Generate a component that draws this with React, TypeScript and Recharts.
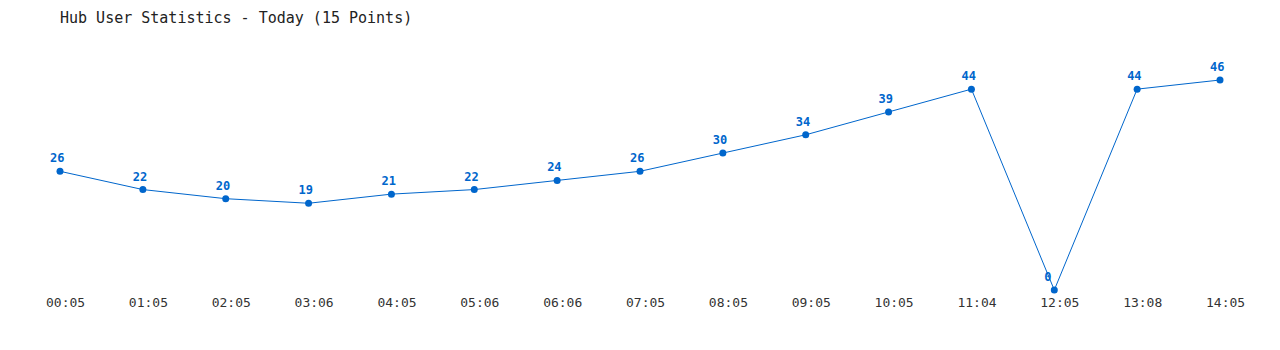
import { LineChart, Line, XAxis, YAxis, LabelList } from 'recharts';

const times = [
  '00:05', '01:05', '02:05', '03:06', '04:05', '05:06', '06:06', '07:05',
  '08:05', '09:05', '10:05', '11:04', '12:05', '13:08', '14:05',
];
const users = [26, 22, 20, 19, 21, 22, 24, 26, 30, 34, 39, 44, 0, 44, 46];

const data = times.map((t, i) => ({ time: t, users: users[i] }));

const mono = '"DejaVu Sans Mono", "Liberation Mono", monospace';
const blue = '#0066cc';

const TimeTick = (props: any) => {
  const { x, y, payload } = props;
  return (
    <text x={x - 14} y={y} dy="0.71em" textAnchor="start" fontFamily={mono} fontSize={13} fill="#333">
      {payload.value}
    </text>
  );
};

const PointLabel = (props: any) => {
  const { x, y, value } = props;
  return (
    <text x={x - 10} y={y - 9} textAnchor="start" fontFamily={mono} fontSize={12} fontWeight="bold" fill={blue}>
      {value}
    </text>
  );
};

export default function App() {
  return (
    <div style={{ position: 'absolute', left: 0, top: 0, width: 1280, height: 350, background: '#fff' }}>
      <div
        style={{
          position: 'absolute',
          left: 60,
          top: 10,
          fontFamily: mono,
          fontSize: 15,
          lineHeight: '16px',
          color: '#222',
          whiteSpace: 'pre',
        }}
      >
        Hub User Statistics - Today (15 Points)
      </div>
      <LineChart width={1280} height={350} data={data} margin={{ top: 80, right: 60, bottom: 30, left: 60 }}>
        <XAxis
          dataKey="time"
          height={30}
          axisLine={false}
          tickLine={false}
          interval={0}
          padding={{ left: 0, right: 0 }}
          tick={<TimeTick />}
        />
        <YAxis hide domain={[0, 46]} />
        <Line
          type="linear"
          dataKey="users"
          stroke={blue}
          strokeWidth={1}
          dot={{ r: 3.5, fill: blue, stroke: blue, strokeWidth: 0 }}
          activeDot={false}
          isAnimationActive={false}
        >
          <LabelList dataKey="users" content={<PointLabel />} />
        </Line>
      </LineChart>
    </div>
  );
}
